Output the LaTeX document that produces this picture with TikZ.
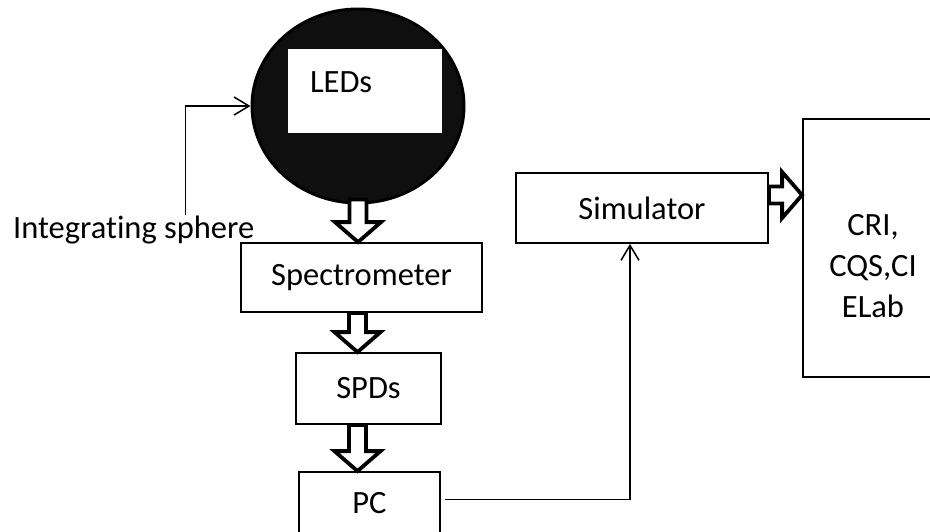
\documentclass[tikz,border=0pt]{standalone}
\usepackage{fontspec}
\setmainfont{Carlito}[Ligatures=CommonOff]
\usetikzlibrary{arrows.meta,calc,shapes.geometric}

\tikzset{
  box/.style={draw=black, line width=1.8pt, inner sep=0pt},
  link/.style={line width=1.5pt, -{Straight Barb[length=15pt,width=18pt]}},
  bigarrow/.style={draw=black, fill=white, line width=3.8pt, line join=miter},
}
% hollow block arrow from #1 to #2 (tip)
\newcommand{\blockarrow}[2]{%
  \coordinate (hb) at ($(#2)!20pt!(#1)$);
  \draw[bigarrow] ($(#1)!8.5pt!90:(#2)$) -- ($(hb)!8.5pt!90:(#2)$)
    -- ($(hb)!23pt!90:(#2)$) -- (#2) -- ($(hb)!23pt!-90:(#2)$)
    -- ($(hb)!8.5pt!-90:(#2)$) -- ($(#1)!8.5pt!-90:(#2)$) -- cycle;
}

\begin{document}
\begin{tikzpicture}[x=1pt, y=-1pt, font=\fontsize{32.5}{41}\selectfont]
  \path[use as bounding box, clip] (0,0) rectangle (930,531);

  % integrating sphere with the LEDs
  \node[ellipse, draw=black, line width=3pt, fill=black!94,
        minimum width=212pt, minimum height=194pt] (sphere) at (358,106) {};
  \node[fill=white, minimum width=154pt, minimum height=84pt] (ledbox) at (365,91) {};
  \node[anchor=west, inner sep=0pt] (ledtext) at ([xshift=22pt,yshift=9pt]ledbox.west) {LEDs};

  \node[anchor=base west, inner sep=0pt] (isph) at (13,238) {Integrating sphere};
  \draw[link] ([xshift=52pt]isph.north) |- (sphere.west);

  % measurement chain
  \node[box, minimum width=241pt, minimum height=69pt] (spec) at (361.5,277.5) {Spectrometer};
  \node[box, minimum width=145pt, minimum height=71pt] (spds) at (368.5,388.5) {SPDs};
  \node[box, minimum width=141pt, minimum height=63pt] (pc) at (369.5,503.5) {PC};

  \node[box, minimum width=252pt, minimum height=70pt] (sim) at (642,208) {Simulator};
  \node[box, minimum width=140pt, minimum height=258pt] (cri) at (873,248) {};
  \node[align=center, inner sep=0pt] (critext) at ([yshift=-18pt]cri.center) {CRI,\\CQS,CI\\ELab};

  % block arrows
  \coordinate (a1) at ([yshift=5pt]sphere.south);
  \coordinate (b1) at (sphere.south |- spec.north);
  \coordinate (a2) at ([xshift=-4pt]spec.south);
  \coordinate (b2) at (a2 |- spds.north);
  \coordinate (a3) at (a2 |- spds.south);
  \coordinate (b3) at (a2 |- pc.north);
  \coordinate (a4) at ([yshift=13pt]sim.east);
  \coordinate (b4) at (a4 -| cri.west);
  \blockarrow{a1}{b1}
  \blockarrow{a2}{b2}
  \blockarrow{a3}{b3}
  \blockarrow{a4}{b4}

  \draw[link] ([xshift=4pt,yshift=4pt]pc.east) -| ([xshift=-12pt]sim.south);
\end{tikzpicture}
\end{document}
